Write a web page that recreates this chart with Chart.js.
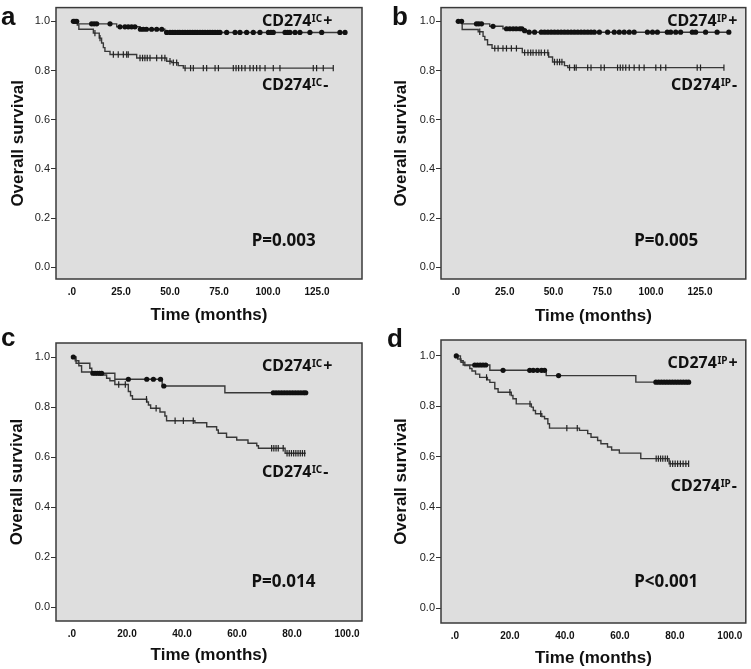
<!DOCTYPE html>
<html>
<head>
<meta charset="utf-8">
<script src="https://cdn.jsdelivr.net/npm/chart.js@4.4.1/dist/chart.umd.min.js"></script>
<style>
html, body { margin: 0; padding: 0; background: #fff; }
#page { position: relative; width: 751px; height: 669px; overflow: hidden; }
.panel { position: absolute; }
</style>
</head>
<body>
<div id="page">
  <div class="panel" style="left:0;top:0;width:375px;height:334px"><canvas id="chartA"></canvas></div>
  <div class="panel" style="left:375px;top:0;width:376px;height:334px"><canvas id="chartB"></canvas></div>
  <div class="panel" style="left:0;top:320px;width:375px;height:349px"><canvas id="chartC"></canvas></div>
  <div class="panel" style="left:375px;top:320px;width:376px;height:349px"><canvas id="chartD"></canvas></div>
</div>
<script>
// tick labels
const yTicks = [0, 0.2, 0.4, 0.6, 0.8, 1.0];
const xTicksTop = [0, 25, 50, 75, 100, 125];
const xTicksBottom = [0, 20, 40, 60, 80, 100];

// panel a - CD274 IC
const aPosTimes = [3.0, 22.8, 34.7, 47.4];
const aPosSurv = [0.99, 0.978, 0.968, 0.955];
const aPosCensor = [0.7, 1.5, 2.4, 10, 11.3, 12.6, 19.4, 24.5, 27, 28.7, 30.4, 32.1, 34.9, 36.4, 38, 40.6, 43.2, 45.8,
    48.3, 50, 51.3, 52.6, 54, 55, 56.4, 57.7, 59, 60.2, 61.5, 62.8, 64, 65.3, 66.6, 67.9, 69.2, 70.4, 71.7, 73, 74.3, 75.5,
    78.9, 83.2, 85.7, 89.1, 92.5, 95.9, 100.2, 101.5, 102.7, 108.7, 110, 111.2, 113.8, 116.3, 121.4, 127.4, 136.7, 139.3];
const aPosEnd = 139.3;
const aNegTimes = [2.7, 3.5, 10.9, 13.9, 15.1, 16.0, 16.8, 19.4, 33.0, 48.3, 50.9, 54.2, 56.8];
const aNegSurv = [0.985, 0.968, 0.952, 0.932, 0.912, 0.893, 0.878, 0.865, 0.851, 0.838, 0.832, 0.82, 0.81];
const aNegCensor = [11.7, 14.3, 21.1, 23.6, 26.2, 27.9, 28.7, 34.7, 36, 37.2, 38.4, 39.8, 43.2, 45.8, 47.4, 50, 51.7, 53.4,
    57.7, 60.5, 61.9, 67, 68.7, 73, 74.7, 82.3, 83.7, 85, 86.6, 88.3, 90.8, 92.5, 94.2, 95.9, 98.5, 102.7, 106.1,
    123.1, 124.8, 128.2, 133.3];
const aNegEnd = 133.3;

// panel b - CD274 IP
const bPosTimes = [3.2, 17.3, 24.1, 34.3, 36.9];
const bPosSurv = [0.99, 0.98, 0.97, 0.962, 0.956];
const bPosCensor = [1.2, 2.9, 10.5, 11.7, 13.1, 19.0, 25.9, 27.6, 29.3, 30.9, 32.7, 33.8, 35.2, 37.5, 40.3, 43.7, 45.4,
    47.1, 48.8, 50.5, 52.2, 53.9, 55.6, 57.3, 59, 60.7, 62.4, 64.1, 65.8, 67.5, 69.2, 70.9, 73.5, 77.7, 81.1, 83.7, 86.2,
    88.8, 91.3, 98.1, 100.7, 103.2, 108.3, 110, 112.6, 115.1, 121.1, 122.8, 127.9, 133.8, 139.8];
const bPosEnd = 139.8;
const bNegTimes = [3.2, 11.4, 13.9, 14.8, 16.2, 18.5, 34.0, 47.5, 49.5, 55.6, 57.3];
const bNegSurv = [0.967, 0.958, 0.939, 0.925, 0.905, 0.89, 0.873, 0.855, 0.835, 0.82, 0.812];
const bNegCensor = [12.2, 19.9, 21.6, 24.1, 25.9, 28.4, 31, 35.2, 36.9, 38.3, 39.5, 41.1, 42.5, 43.7, 45.4, 47.1, 50.5,
    51.9, 53.1, 54.3, 58.2, 60.7, 61.6, 67.5, 69.2, 74.3, 76, 82.8, 84.2, 85.5, 87, 88.8, 91.3, 93.9, 96.4, 102.4, 104.9,
    107.5, 123.6, 125.3, 137.3];
const bNegEnd = 137.3;

// panel c - CD274 IC, second cohort
const cPosTimes = [1.5, 6.5, 7.2, 15.6, 32.8, 55.6];
const cPosSurv = [0.975, 0.955, 0.935, 0.911, 0.884, 0.857];
const cPosCensor = [0.5, 7.6, 8.4, 9.2, 10, 10.8, 20.5, 27.2, 29.6, 32.2, 33.4, 73.2, 74.2, 75.2, 76.2, 77.2, 78.2, 79.2,
    80.2, 81.2, 82.2, 83.2, 84.2, 85];
const cPosEnd = 85;
const cNegTimes = [1.2, 2.5, 3.5, 10.2, 12.6, 13.8, 15.6, 20.5, 21.3, 22, 27.2, 27.8, 28.6, 32, 33.8, 34.4, 44.7, 49, 52.6,
    53.2, 56.2, 59.9, 64, 67.2, 67.8, 77.5];
const cNegSurv = [0.985, 0.965, 0.94, 0.928, 0.915, 0.905, 0.89, 0.862, 0.845, 0.831, 0.82, 0.808, 0.795, 0.78, 0.764,
    0.745, 0.737, 0.721, 0.708, 0.695, 0.679, 0.668, 0.655, 0.645, 0.635, 0.615];
const cNegCensor = [17, 19.4, 27.1, 30.6, 37.5, 40.5, 44.1, 72.6, 73.4, 74.2, 75, 76.8, 78.2, 79, 79.8, 80.6, 81.4, 82.2,
    83, 83.8, 84.6];
const cNegEnd = 85;

// panel d - CD274 IP, second cohort
const dPosTimes = [2, 3, 12.7, 33.2, 65.8];
const dPosSurv = [0.981, 0.964, 0.943, 0.922, 0.896];
const dPosCensor = [0.5, 7.2, 8.2, 9.2, 10.2, 11.2, 17.5, 27.2, 28.5, 30, 31.5, 32.6, 37.7, 73.1, 74.1, 75.1, 76.1, 77.1,
    78.1, 79.1, 80.1, 81.1, 82.1, 83.1, 84.1, 85];
const dPosEnd = 85;
const dNegTimes = [1.0, 2.2, 3.6, 5.4, 6.2, 7.5, 9.0, 11.8, 12.7, 14.5, 15.7, 20.5, 21.1, 22.3, 27.8, 28.5, 29.3, 31.6,
    32.6, 33.8, 34.4, 45.3, 48.3, 49.5, 51.9, 53.1, 55.5, 57, 59.8, 67.6, 77.9];
const dNegSurv = [0.988, 0.975, 0.962, 0.95, 0.94, 0.928, 0.915, 0.905, 0.895, 0.87, 0.856, 0.843, 0.83, 0.81, 0.797,
    0.784, 0.771, 0.76, 0.751, 0.731, 0.714, 0.705, 0.692, 0.678, 0.665, 0.652, 0.639, 0.627, 0.615, 0.593, 0.573];
const dNegCensor = [11.5, 20, 27.3, 31.2, 40.7, 44.5, 73.2, 74, 74.8, 75.6, 76.5, 77.3, 78.3, 79.2, 80.1, 81, 82, 83, 84, 85];
const dNegEnd = 85;

const pValues = ['P=0.003', 'P=0.005', 'P=0.014', 'P<0.001'];

const LINE = '#383838';
const AXIS_FONT = "'Liberation Sans', Arial, sans-serif";
const LABEL_FONT = "'Noto Sans', 'Open Sans', sans-serif";

function survivalAt(times, surv, t) {
    let s = 1;
    for (let i = 0; i < times.length; i++) {
        if (times[i] <= t) s = surv[i];
    }
    return s;
}

function stepData(times, surv, end) {
    let pts = [{x: 0, y: 1}];
    for (let i = 0; i < times.length; i++) pts.push({x: times[i], y: surv[i]});
    pts.push({x: end, y: surv[surv.length - 1]});
    return pts;
}

function censorData(times, surv, censor) {
    return censor.map(t => ({x: t, y: survivalAt(times, surv, t)}));
}

function fmtX(v) {
    return v === 0 ? '.0' : v.toFixed(1);
}

function drawGroupLabel(ctx, x, yMid, sup, sign) {
    let base = yMid + 5.5;
    ctx.textAlign = 'left';
    ctx.textBaseline = 'alphabetic';
    ctx.font = `bold 16px ${LABEL_FONT}`;
    ctx.fillText('CD274', x, base);
    let w = ctx.measureText('CD274').width;
    ctx.font = `bold 10px ${LABEL_FONT}`;
    ctx.fillText(sup, x + w + 0.5, base - 4);
    let w2 = ctx.measureText(sup).width;
    ctx.font = `bold 16px ${LABEL_FONT}`;
    ctx.fillText(sign, x + w + w2 + 1.5, base);
}

const panelDecor = {
    id: 'panelDecor',
    beforeDraw(chart) {
        let {ctx, chartArea: a} = chart;
        ctx.save();
        ctx.fillStyle = '#dedede';
        ctx.fillRect(a.left, a.top, a.right - a.left, a.bottom - a.top);
        ctx.restore();
    },
    afterDraw(chart) {
        let {ctx, chartArea: a, scales} = chart;
        let p = chart.options.plugins.panelDecor;
        ctx.save();
        ctx.strokeStyle = '#3a3a3a';
        ctx.lineWidth = 1.5;
        ctx.strokeRect(a.left, a.top, a.right - a.left, a.bottom - a.top);
        ctx.fillStyle = '#111';
        p.groups.forEach(g => {
            drawGroupLabel(ctx, scales.x.getPixelForValue(g.x), scales.y.getPixelForValue(g.y), g.sup, g.sign);
        });
        ctx.font = `bold 17px ${LABEL_FONT}`;
        ctx.textAlign = 'left';
        ctx.textBaseline = 'middle';
        ctx.fillText(p.pText, scales.x.getPixelForValue(p.pX), scales.y.getPixelForValue(p.pY));
        ctx.font = `bold 26px ${AXIS_FONT}`;
        ctx.textBaseline = 'alphabetic';
        ctx.fillText(p.letter, p.letterX, p.letterY);
        ctx.restore();
    }
};

function makeChart(id, p) {
    return new Chart(document.getElementById(id), {
        type: 'line',
        data: {
            datasets: [
                {
                    data: censorData(p.posTimes, p.posSurv, p.posCensor),
                    showLine: false,
                    pointStyle: 'circle',
                    pointRadius: 2.6,
                    pointBackgroundColor: '#111',
                    pointBorderColor: '#111',
                    pointBorderWidth: 0
                },
                {
                    data: censorData(p.negTimes, p.negSurv, p.negCensor),
                    showLine: false,
                    pointStyle: 'line',
                    pointRotation: 90,
                    pointRadius: 3.2,
                    pointBorderColor: '#222',
                    pointBorderWidth: 1.2
                },
                {
                    data: stepData(p.posTimes, p.posSurv, p.posEnd),
                    stepped: 'before',
                    borderColor: LINE,
                    borderWidth: 1.4,
                    pointRadius: 0,
                    fill: false
                },
                {
                    data: stepData(p.negTimes, p.negSurv, p.negEnd),
                    stepped: 'before',
                    borderColor: LINE,
                    borderWidth: 1.4,
                    pointRadius: 0,
                    fill: false
                }
            ]
        },
        options: {
            responsive: true,
            maintainAspectRatio: false,
            animation: false,
            events: [],
            layout: {padding: {left: 0, top: p.padTop, right: p.padRight, bottom: 0}},
            plugins: {
                legend: {display: false},
                tooltip: {enabled: false},
                panelDecor: p.decor
            },
            scales: {
                x: {
                    type: 'linear',
                    min: p.xMin,
                    max: p.xMax,
                    afterBuildTicks: s => { s.ticks = p.xTicks.map(v => ({value: v})); },
                    afterFit: s => { s.height = p.xAxisH; },
                    grid: {display: false, drawTicks: false},
                    border: {display: false},
                    ticks: {
                        padding: p.xTickPad,
                        color: '#111',
                        maxRotation: 0,
                        autoSkip: false,
                        font: {family: AXIS_FONT, size: 10, weight: 'bold'},
                        callback: v => fmtX(v)
                    },
                    title: {
                        display: true,
                        text: 'Time (months)',
                        color: '#111',
                        font: {family: AXIS_FONT, size: 17, weight: 'bold'},
                        padding: {top: 0, bottom: p.xTitlePad}
                    }
                },
                y: {
                    type: 'linear',
                    min: p.yMin,
                    max: p.yMax,
                    afterBuildTicks: s => { s.ticks = yTicks.map(v => ({value: v})); },
                    afterFit: s => { s.width = p.yAxisW; },
                    grid: {drawOnChartArea: false, drawTicks: true, tickLength: 5, color: '#333', lineWidth: 1},
                    border: {display: false},
                    ticks: {
                        padding: 1,
                        color: '#222',
                        font: {family: AXIS_FONT, size: 11},
                        callback: v => v.toFixed(1)
                    },
                    title: {
                        display: true,
                        text: 'Overall survival',
                        color: '#111',
                        font: {family: AXIS_FONT, size: 17, weight: 'bold'},
                        padding: {top: p.yTitlePad, bottom: 0}
                    }
                }
            }
        },
        plugins: [panelDecor]
    });
}

makeChart('chartA', {
    posTimes: aPosTimes, posSurv: aPosSurv, posCensor: aPosCensor, posEnd: aPosEnd,
    negTimes: aNegTimes, negSurv: aNegSurv, negCensor: aNegCensor, negEnd: aNegEnd,
    xTicks: xTicksTop, xMin: -8.16, xMax: 147.96, yMin: -0.048, yMax: 1.056,
    padTop: 2, padRight: 13, yAxisW: 56, xAxisH: 55, xTickPad: 7, xTitlePad: 8.8, yTitlePad: 7.8,
    decor: {
        groups: [{x: 96.9, y: 1.004, sup: 'IC', sign: '+'}, {x: 96.9, y: 0.745, sup: 'IC', sign: '-'}],
        pText: pValues[0], pX: 91.7, pY: 0.104, letter: 'a', letterX: 1, letterY: 25
    }
});

makeChart('chartB', {
    posTimes: bPosTimes, posSurv: bPosSurv, posCensor: bPosCensor, posEnd: bPosEnd,
    negTimes: bNegTimes, negSurv: bNegSurv, negCensor: bNegCensor, negEnd: bNegEnd,
    xTicks: xTicksTop, xMin: -7.65, xMax: 148.5, yMin: -0.048, yMax: 1.056,
    padTop: 2, padRight: 4, yAxisW: 66, xAxisH: 55, xTickPad: 7, xTitlePad: 7.1, yTitlePad: 16.3,
    decor: {
        groups: [{x: 108.2, y: 1.004, sup: 'IP', sign: '+'}, {x: 110.2, y: 0.743, sup: 'IP', sign: '-'}],
        pText: pValues[1], pX: 91.3, pY: 0.104, letter: 'b', letterX: 17, letterY: 25
    }
});

makeChart('chartC', {
    posTimes: cPosTimes, posSurv: cPosSurv, posCensor: cPosCensor, posEnd: cPosEnd,
    negTimes: cNegTimes, negSurv: cNegSurv, negCensor: cNegCensor, negEnd: cNegEnd,
    xTicks: xTicksBottom, xMin: -5.8, xMax: 105.45, yMin: -0.056, yMax: 1.056,
    padTop: 23, padRight: 13, yAxisW: 56, xAxisH: 48, xTickPad: 7, xTitlePad: 3.8, yTitlePad: 7.3,
    decor: {
        groups: [{x: 69.1, y: 0.967, sup: 'IC', sign: '+'}, {x: 69.1, y: 0.544, sup: 'IC', sign: '-'}],
        pText: pValues[2], pX: 65.3, pY: 0.099, letter: 'c', letterX: 1, letterY: 26
    }
});

makeChart('chartD', {
    posTimes: dPosTimes, posSurv: dPosSurv, posCensor: dPosCensor, posEnd: dPosEnd,
    negTimes: dNegTimes, negSurv: dNegSurv, negCensor: dNegCensor, negEnd: dNegEnd,
    xTicks: xTicksBottom, xMin: -5.07, xMax: 105.8, yMin: -0.058, yMax: 1.063,
    padTop: 20, padRight: 4, yAxisW: 66, xAxisH: 46, xTickPad: 7, xTitlePad: 0.8, yTitlePad: 16.3,
    decor: {
        groups: [{x: 77.3, y: 0.972, sup: 'IP', sign: '+'}, {x: 78.5, y: 0.486, sup: 'IP', sign: '-'}],
        pText: pValues[3], pX: 65.2, pY: 0.103, letter: 'd', letterX: 12, letterY: 27
    }
});
</script>
</body>
</html>
